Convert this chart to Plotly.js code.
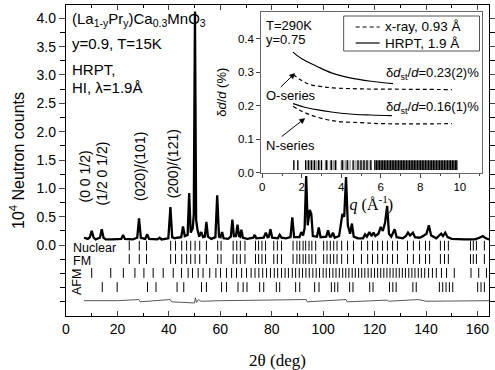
<!DOCTYPE html>
<html><head><meta charset="utf-8">
<script src="https://cdn.plot.ly/plotly-3.0.1.min.js"></script>
<style>html,body{margin:0;padding:0;background:#fff}#c{width:495px;height:370px}</style>
</head><body><div id="c"></div>
<script>
// ---- Main powder pattern (2theta, 10^4 counts) ----
const obsX = [7.0,8.5,9.3,10.0,10.7,11.5,13.2,13.9,14.6,15.5,18,21.5,22.2,22.9,26,27.7,28.4,29.1,30.8,31.6,32.3,35.5,36.4,37.2,39.8,40.6,41.3,42.3,43.2,44.8,45.5,46.2,47.3,47.9,48.5,49.3,49.7,50.15,50.6,51.1,51.8,52.6,53.3,54.0,54.6,55.2,56.5,58.1,58.8,59.5,60.1,60.7,61.3,63,64.1,64.7,65.3,66.1,66.7,67.3,67.7,68.2,68.8,70.5,72.8,73.4,74.0,76.9,77.7,78.4,78.9,79.5,80.2,82.4,83.1,83.8,85.5,87.3,88.0,88.7,90.8,91.5,92.2,92.8,93.4,94.0,94.8,95.4,96.0,97.6,98.3,99.0,101.2,101.9,102.6,103.1,103.8,104.5,106.2,107.0,107.5,108.2,108.9,109.6,110.5,111.2,111.9,113.5,115.5,116.3,117.0,118.0,118.8,119.6,120.3,121.5,122.4,123.2,124.1,124.9,125.6,126.5,127.8,128.6,131,132.2,133.0,133.8,134.9,135.7,137.5,138.5,140.2,141.1,142.0,144,145.2,145.9,146.6,147.5,148.4,150,155,159,160.8,162.1,163.3,164.5];
const obsY = [0.13,0.11,0.14,0.25,0.14,0.10,0.13,0.28,0.13,0.10,0.10,0.11,0.18,0.11,0.10,0.13,0.47,0.13,0.11,0.19,0.11,0.10,0.13,0.10,0.12,0.67,0.14,0.12,0.13,0.14,0.33,0.16,0.18,0.92,0.22,0.30,0.55,4.12,0.45,0.28,0.15,0.23,0.14,0.15,0.41,0.15,0.11,0.14,0.88,0.15,0.14,0.23,0.12,0.11,0.15,0.45,0.16,0.16,0.36,0.16,0.15,0.27,0.13,0.11,0.13,0.18,0.12,0.13,0.22,0.14,0.15,0.28,0.13,0.12,0.18,0.13,0.12,0.14,0.49,0.14,0.14,0.23,0.17,0.30,1.22,0.35,0.62,0.55,0.16,0.15,0.31,0.14,0.15,0.26,0.15,0.15,0.22,0.13,0.16,0.45,0.55,0.50,1.20,0.35,0.20,0.38,0.15,0.12,0.12,0.19,0.15,0.23,0.16,0.22,0.16,0.20,0.32,0.25,0.40,0.69,0.20,0.15,0.28,0.14,0.12,0.16,0.22,0.17,0.22,0.14,0.13,0.15,0.20,0.35,0.17,0.12,0.17,0.20,0.16,0.22,0.14,0.11,0.10,0.10,0.13,0.16,0.12,0.10];
const diffX = [7,20,28.3,28.8,40.5,41,50,50.3,50.8,51.5,52.5,60,93.4,93.8,108.9,109.3,124.9,125.4,137,140,164.5];
const diffY = [-0.98,-0.98,-0.96,-1.0,-0.96,-1.0,-1.02,-0.93,-1.01,-0.96,-0.99,-0.98,-0.96,-1.0,-0.96,-1.0,-0.97,-0.99,-0.96,-0.99,-0.98];

// Bragg reflection markers (2theta)
const nuclearTicks = [24.6,28.5,31.3,40.7,42.6,45.0,46.9,48.5,50.2,52.0,54.6,59.0,60.3,65.0,66.4,67.8,69.6,73.7,74.9,76.2,77.6,80.8,82.2,83.8,88.3,89.8,90.9,92.2,93.2,94.5,95.6,97.1,100.2,101.5,102.8,104.1,105.4,107.2,109.5,111.8,114.9,117.3,119.2,121.2,123.1,125.0,127.0,128.9,132.8,135.1,137.5,139.8,141.4,145.6,147.2,148.7,157.3,158.4,159.6,162.7];
const fmTicks = nuclearTicks.slice();
const afm1Ticks = [10.0,17.4,22.3,26.8,30.3,33.9,37.8,41.7,44.9,47.5,49.2,51.4,53.3,55.9,58.3,60.1,62.4,64.4,66.3,68.3,70.2,72,73.5,75,76.5,78,79.5,81,82.3,83.8,85.2,86.5,88,89.3,90.7,92,93.3,94.6,96,97.3,98.6,100,101.2,102.5,103.8,105,106.3,107.6,108.8,110,111.3,112.5,113.8,115,116.2,117.5,118.7,120,121.2,122.4,123.6,124.8,126,127.2,128.4,129.6,130.8,132,133.3,134.5,135.7,137,138.2,139.5,141,142.5,144,146,148,151,157.5,160.5,163.5];
const afm2Ticks = [14.1,19.9,31.7,35.0,43.2,45.8,52.7,54.6,60.5,62.4,66.9,68.9,70.4,75.3,76.9,81.8,83.1,89.3,90.9,96.7,98.4,103.2,104.5,105.7,110.3,111.6,118.1,119.4,125.8,127.1,128.4,134.9,136.2,145.2,146.5,147.8,149.1,150.4,160.1,161.4,162.7];
const rowY = {nuclear:-0.01, fm:-0.245, afm1:-0.49, afm2:-0.74};

// ---- Inset: strain broadening vs q ----
const oHrptQ = [1.55,2.0,2.75,3.5,4.44,5.5,6.62];
const oHrptD = [0.360,0.340,0.318,0.298,0.283,0.273,0.266];
const oXrayQ = [1.56,2.0,2.41,3.0,3.6,5.0,7.0,9.6];
const oXrayD = [0.293,0.275,0.263,0.257,0.253,0.250,0.249,0.248];
const nHrptQ = [1.56,2.1,2.75,3.5,4.44,5.5,6.56];
const nHrptD = [0.206,0.196,0.188,0.181,0.175,0.172,0.170];
const nXrayQ = [1.56,2.0,2.41,3.0,3.77,5.0,6.13,9.6];
const nXrayD = [0.198,0.183,0.173,0.162,0.153,0.149,0.146,0.146];
const qTicksGray = [2.3,2.45,2.6,2.75,2.9,3.2,3.3,3.45,3.6,3.75,4.0,4.1,4.2,4.35,4.45,4.7,4.8,4.95,5.1,5.2,5.35,5.45];
const qTicksBlack = [1.6,1.8,2.2,2.35,2.5,2.65,2.85,3.0,3.25,3.5,3.7,4.05,4.3,4.6,4.85,5.0,5.15,5.3,5.5,5.7,5.78,5.86,5.94,6.02,6.1,6.18,6.26,6.34,6.42,6.5,6.58,6.66,6.74,6.82,6.9,6.98,7.06,7.14,7.22,7.3,7.38,7.46,7.54,7.62,7.7,7.78,7.86,7.94,8.02,8.1,8.18,8.26,8.34,8.42,8.5,8.58,8.66,8.74,8.82,8.9,8.98,9.06,9.14,9.22,9.3,9.38,9.46,9.54,9.62,9.7,9.78,9.85];
const qTickY = 0.022;

// ---- layout helpers (pixel -> paper) ----
const L=66, R=489.5, T=5, B=316;
const px = x => (x-L)/(R-L);
const py = y => (B-y)/(B-T);
const SANS = 'Liberation Sans, Arial, sans-serif';
const SERIF = 'Liberation Serif, Times New Roman, serif';

function tickTrace(xs, y, xa, ya, color, size, w){
  return {x: xs, y: xs.map(()=>y), xaxis: xa, yaxis: ya, mode:'markers', type:'scatter',
    marker:{symbol:'line-ns-open', size:size, color:color, line:{color:color, width:w}},
    hoverinfo:'skip', showlegend:false};
}

const traces = [
  {x: obsX, y: obsY, mode:'lines', type:'scatter', line:{color:'#000', width:2.3}, showlegend:false},
  {x: diffX, y: diffY, mode:'lines', type:'scatter', line:{color:'#444', width:0.9}, showlegend:false},
  tickTrace(nuclearTicks, rowY.nuclear, 'x', 'y', '#000', 7, 1),
  tickTrace(fmTicks, rowY.fm, 'x', 'y', '#000', 7, 1),
  tickTrace(afm1Ticks, rowY.afm1, 'x', 'y', '#000', 7, 1),
  tickTrace(afm2Ticks, rowY.afm2, 'x', 'y', '#000', 7, 1),
  // inset
  {x: oHrptQ, y: oHrptD, xaxis:'x2', yaxis:'y2', mode:'lines', line:{color:'#000', width:1.2, shape:'spline'}, showlegend:false},
  {x: oXrayQ, y: oXrayD, xaxis:'x2', yaxis:'y2', mode:'lines', line:{color:'#000', width:1.2, dash:'4px,3px', shape:'spline'}, showlegend:false},
  {x: nHrptQ, y: nHrptD, xaxis:'x2', yaxis:'y2', mode:'lines', line:{color:'#000', width:1.2, shape:'spline'}, showlegend:false},
  {x: nXrayQ, y: nXrayD, xaxis:'x2', yaxis:'y2', mode:'lines', line:{color:'#000', width:1.2, dash:'4px,3px', shape:'spline'}, showlegend:false},
  tickTrace(qTicksGray, qTickY, 'x2', 'y2', '#999', 7, 1.4),
  tickTrace(qTicksBlack, qTickY, 'x2', 'y2', '#000', 7, 1.4)
];

const yTickVals = [0,0.5,1,1.5,2,2.5,3,3.5,4];
const yTickText = ['0.0','0.5','1.0','1.5','2.0','2.5','3.0','3.5','4.0'];
const yMinorVals = [-1,-0.75,-0.5,-0.25,0.25,0.75,1.25,1.75,2.25,2.75,3.25,3.75];

function ann(text, x, y, opts){
  return Object.assign({text:text, x:px(x), y:py(y), xref:'paper', yref:'paper', showarrow:false,
    xanchor:'left', yanchor:'middle', font:{family:SANS, size:15, color:'#000'}}, opts||{});
}

const annotations = [
  ann('(La<sub>1-y</sub>Pr<sub>y</sub>)Ca<sub>0.3</sub>MnO<sub>3</sub>', 70, 20),
  ann('y=0.9, T=15K', 70, 44),
  ann('HRPT,', 70, 69),
  ann('HI, λ=1.9Å', 70, 87),
  ann('(0 0 1/2)', 85.5, 176, {textangle:-90, xanchor:'center', font:{family:SANS,size:14,color:'#000'}}),
  ann('(1/2 0 1/2)', 102.5, 173, {textangle:-90, xanchor:'center', font:{family:SANS,size:14,color:'#000'}}),
  ann('(020)/(101)', 140, 166, {textangle:-90, xanchor:'center', font:{family:SANS,size:14,color:'#000'}}),
  ann('(200)/(121)', 173.5, 164, {textangle:-90, xanchor:'center', font:{family:SANS,size:14,color:'#000'}}),
  ann('Nuclear', 71, 248, {font:{family:SANS,size:12.5,color:'#000'}}),
  ann('FM', 71, 261, {font:{family:SANS,size:12.5,color:'#000'}}),
  ann('AFM', 77, 282, {textangle:-90, xanchor:'center', font:{family:SANS,size:12.5,color:'#000'}}),
  // inset texts
  ann('T=290K', 264, 25, {font:{family:SANS,size:13,color:'#000'}}),
  ann('y=0.75', 264, 39, {font:{family:SANS,size:13,color:'#000'}}),
  ann('O-series', 264, 95, {font:{family:SANS,size:13,color:'#000'}}),
  ann('N-series', 264, 145, {font:{family:SANS,size:13,color:'#000'}}),
  ann('δ<i>d</i><sub>st</sub>/<i>d</i>=0.23(2)%', 481, 73, {xanchor:'right', font:{family:SANS,size:13,color:'#000'}}),
  ann('δ<i>d</i><sub>st</sub>/<i>d</i>=0.16(1)%', 481, 107, {xanchor:'right', font:{family:SANS,size:13,color:'#000'}}),
  ann('x-ray, 0.93 Å', 383, 27, {font:{family:SANS,size:13.5,color:'#000'}}),
  ann('HRPT, 1.9 Å', 383, 43, {font:{family:SANS,size:13.5,color:'#000'}})
];

// arrows (pixel positions -> paper shapes)
function arrowShapes(tx, ty, hx, hy){
  const dx = hx-tx, dy = hy-ty, len = Math.hypot(dx,dy), ux = dx/len, uy = dy/len;
  const bx = hx-5*ux, by = hy-5*uy, nx = -uy*2.6, ny = ux*2.6;
  return [
    {type:'line', xref:'paper', yref:'paper', x0:px(tx), y0:py(ty), x1:px(bx), y1:py(by), line:{color:'#000', width:1}},
    {type:'path', xref:'paper', yref:'paper',
     path:`M ${px(hx)} ${py(hy)} L ${px(bx+nx)} ${py(by+ny)} L ${px(bx-nx)} ${py(by-ny)} Z`,
     fillcolor:'#000', line:{color:'#000', width:0.5}}
  ];
}

const shapes = [
  {type:'rect', xref:'paper', yref:'paper', x0:px(344), x1:px(480), y0:py(51), y1:py(16), line:{color:'#555', width:1}, fillcolor:'rgba(255,255,255,0)'},
  {type:'line', xref:'paper', yref:'paper', x0:px(356), x1:px(380), y0:py(27), y1:py(27), line:{color:'#000', width:1.2, dash:'4px,3px'}},
  {type:'line', xref:'paper', yref:'paper', x0:px(356), x1:px(380), y0:py(43), y1:py(43), line:{color:'#000', width:1.2}}
].concat(arrowShapes(281, 87, 295, 73.5), arrowShapes(282, 136.5, 305, 118.5));

const layout = {
  width:495, height:370, margin:{l:L, r:495-R, t:T, b:370-B},
  paper_bgcolor:'#fff', plot_bgcolor:'#fff', showlegend:false,
  font:{family:SANS, size:14, color:'#000'},
  xaxis:{domain:[0,1], range:[0,164.5], tick0:0, dtick:20, ticks:'inside', ticklen:5, tickwidth:1,
    showline:true, linecolor:'#000', linewidth:1.2, mirror:'allticks', showgrid:false, zeroline:false,
    tickfont:{family:SANS, size:14}, minor:{dtick:10, tick0:0, ticks:'inside', ticklen:3, tickcolor:'#000', showgrid:false},
    title:{text:'2θ (deg)', font:{family:SERIF, size:17}, standoff:24}},
  yaxis:{domain:[0,1], range:[-1.25,4.234], tickmode:'array', tickvals:yTickVals, ticktext:yTickText,
    ticks:'outside', ticklen:6, tickwidth:1, showline:true, linecolor:'#000', linewidth:1.2, mirror:'allticks',
    showgrid:false, zeroline:false, tickfont:{family:SANS, size:14},
    minor:{tickmode:'array', tickvals:yMinorVals, ticks:'outside', ticklen:5, tickcolor:'#000', showgrid:false},
    title:{text:'10<sup>4</sup> Neutron counts', font:{family:SANS, size:16}, standoff:8}},
  xaxis2:{domain:[px(261.5), px(482)], anchor:'y2', range:[-0.05,11.1], tickvals:[0,2,4,6,8,10], ticks:'outside', ticklen:4,
    showline:true, linecolor:'#666', linewidth:1, mirror:true, showgrid:false, zeroline:false, tickfont:{family:SANS,size:11.5},
    minor:{tickvals:[1,3,5,7,9,11], ticks:'outside', ticklen:2, tickcolor:'#444'},
    title:{text:'<i>q</i> (Å<sup>-1</sup>)', font:{family:SERIF, size:16}, standoff:4}},
  yaxis2:{domain:[py(172.5), py(12)], anchor:'x2', range:[0,0.48], tickvals:[0,0.1,0.2,0.3,0.4], ticktext:['0.0','0.1','0.2','0.3','0.4'],
    ticks:'outside', ticklen:4, showline:true, linecolor:'#666', linewidth:1, mirror:true, showgrid:false, zeroline:false,
    tickfont:{family:SANS,size:11.5},
    title:{text:'δ<i>d</i>/<i>d</i> (%)', font:{family:SANS, size:13}, standoff:8}},
  annotations: annotations,
  shapes: shapes
};

Plotly.newPlot('c', traces, layout, {staticPlot:true, displayModeBar:false});
</script></body></html>
